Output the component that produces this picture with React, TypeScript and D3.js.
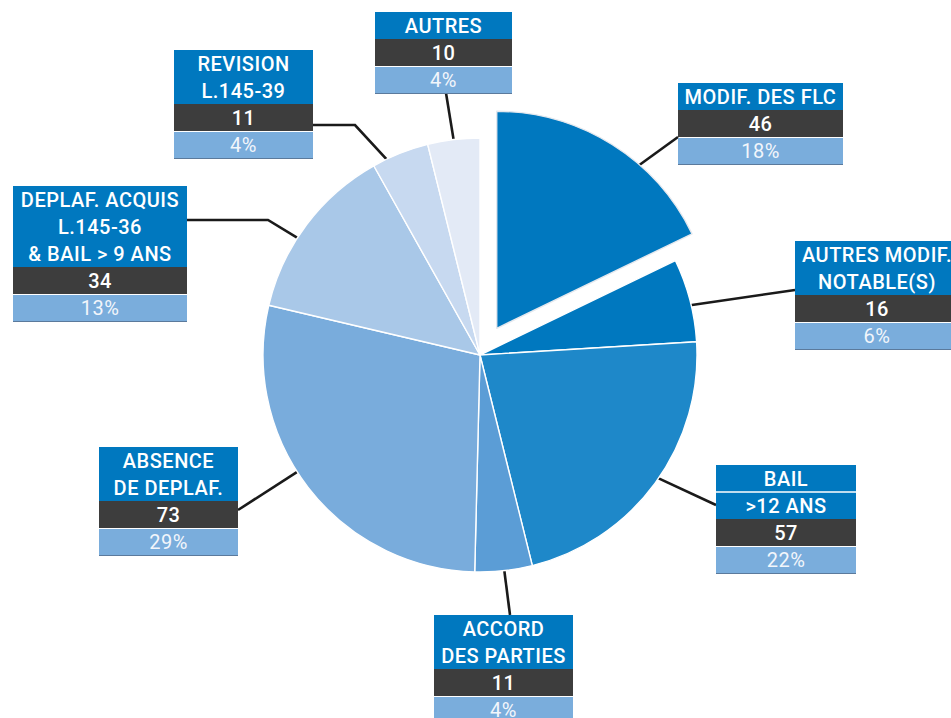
import React from "react";
import * as d3 from "d3";

const categories = [
  "MODIF. DES FLC",
  "AUTRES MODIF. NOTABLE(S)",
  "BAIL >12 ANS",
  "ACCORD DES PARTIES",
  "ABSENCE DE DEPLAF.",
  "DEPLAF. ACQUIS L.145-36 & BAIL > 9 ANS",
  "REVISION L.145-39",
  "AUTRES",
];
const headerLines = [
  ["MODIF. DES FLC"],
  ["AUTRES MODIF.", "NOTABLE(S)"],
  ["BAIL", ">12 ANS"],
  ["ACCORD", "DES PARTIES"],
  ["ABSENCE", "DE DEPLAF."],
  ["DEPLAF. ACQUIS", "L.145-36", "& BAIL > 9 ANS"],
  ["REVISION", "L.145-39"],
  ["AUTRES"],
];
const values = [46, 16, 57, 11, 73, 34, 11, 10];
const percentLabels = ["18%", "6%", "22%", "4%", "29%", "13%", "4%", "4%"];

const sliceColors = ["#0078bf", "#0078bf", "#1e88c9", "#5b9dd6", "#79acdc", "#a9c8e8", "#c7d9f0", "#e3eaf6"];

// label box layout: x, y, width, leader start, optional elbow, fraction within slice for leader end
const layout = [
  { x: 678, y: 83, w: 165, sx: 678, sy: 137, t: 0.64, sep: false },
  { x: 795, y: 241, w: 164, sx: 795, sy: 290, t: 0.56, sep: false },
  { x: 716, y: 465, w: 140, sx: 716, sy: 505, t: 0.48, sep: true },
  { x: 434, y: 615, w: 139, sx: 510, sy: 615, t: 0.49, sep: false },
  { x: 99, y: 447, w: 139, sx: 238, sy: 510, t: 0.55, sep: false },
  { x: 13, y: 186, w: 174, sx: 187, sy: 220, ex: 268, ey: 220, t: 0.41, sep: false },
  { x: 174, y: 50, w: 139, sx: 313, sy: 125, ex: 355, ey: 125, t: 0.25, sep: false },
  { x: 375, y: 12, w: 137, sx: 446, sy: 93, t: 0.5, sep: false },
];

const W = 951;
const H = 718;
const cx = 480;
const cy = 355;
const R = 217;
const explode = 31.5;
const LH = 27;
const FS = 20;
const BASE = 21;

export default function App() {
  const pie = d3.pie<number>().sort(null).value((d) => d);
  const arcs = pie(values);
  const arc = d3.arc<d3.PieArcDatum<number>>().innerRadius(0).outerRadius(R);

  const offsetFor = (i: number) => {
    if (i !== 0) return [0, 0];
    const a = (arcs[i].startAngle + arcs[i].endAngle) / 2;
    return [explode * Math.sin(a), -explode * Math.cos(a)];
  };

  return (
    <svg width={W} height={H} style={{ position: "absolute", left: 0, top: 0 }} fontFamily="Roboto, 'DejaVu Sans', sans-serif">
      <rect width={W} height={H} fill="#ffffff" />
      {/* leader lines */}
      {arcs.map((a, i) => {
        const L = layout[i];
        const ang = a.startAngle + (a.endAngle - a.startAngle) * L.t;
        const [ox, oy] = offsetFor(i);
        const px = cx + ox + (R - 1) * Math.sin(ang);
        const py = cy + oy - (R - 1) * Math.cos(ang);
        const pts: [number, number][] = [[L.sx, L.sy]];
        if (L.ex !== undefined) pts.push([L.ex, L.ey as number]);
        pts.push([px, py]);
        return (
          <path key={"l" + i} d={d3.line()(pts) as string} fill="none" stroke="#1a1a1a" strokeWidth={2.6} />
        );
      })}
      {/* slices */}
      {arcs.map((a, i) => {
        const [ox, oy] = offsetFor(i);
        return (
          <path
            key={"s" + i}
            d={arc(a) as string}
            transform={`translate(${cx + ox},${cy + oy})`}
            fill={sliceColors[i]}
            stroke={i === 0 ? "#e4e8ee" : "#ffffff"}
            strokeWidth={1.4}
            strokeLinejoin="round"
          />
        );
      })}
      {/* label boxes */}
      {categories.map((c, i) => {
        const L = layout[i];
        const lines = headerLines[i];
        const hh = lines.length * LH;
        const mid = L.x + L.w / 2;
        return (
          <g key={"b" + i}>
            <rect x={L.x} y={L.y} width={L.w} height={hh} fill="#0078bf" />
            {L.sep &&
              lines.slice(1).map((_, k) => (
                <line key={k} x1={L.x} x2={L.x + L.w} y1={L.y + (k + 1) * LH} y2={L.y + (k + 1) * LH} stroke="#ffffff" strokeWidth={1.5} />
              ))}
            {lines.map((t, k) => (
              <text key={k} x={mid} y={L.y + k * LH + BASE} textAnchor="middle" fill="#ffffff" fontSize={FS} fontWeight={500} letterSpacing={0.5}>
                {t}
              </text>
            ))}
            <rect x={L.x} y={L.y + hh} width={L.w} height={LH} fill="#3d3d3d" />
            <text x={mid} y={L.y + hh + BASE} textAnchor="middle" fill="#ffffff" fontSize={FS} fontWeight={500} letterSpacing={0.5}>
              {values[i]}
            </text>
            <rect x={L.x} y={L.y + hh + LH + 1} width={L.w} height={26} fill="#7aaddc" />
            <line x1={L.x} x2={L.x + L.w} y1={L.y + hh + LH + 27.5} y2={L.y + hh + LH + 27.5} stroke="#5b7a9c" strokeWidth={1} />
            <text x={mid} y={L.y + hh + LH + BASE} textAnchor="middle" fill="#f2f6fb" fontSize={FS} letterSpacing={0.5}>
              {percentLabels[i]}
            </text>
          </g>
        );
      })}
    </svg>
  );
}
